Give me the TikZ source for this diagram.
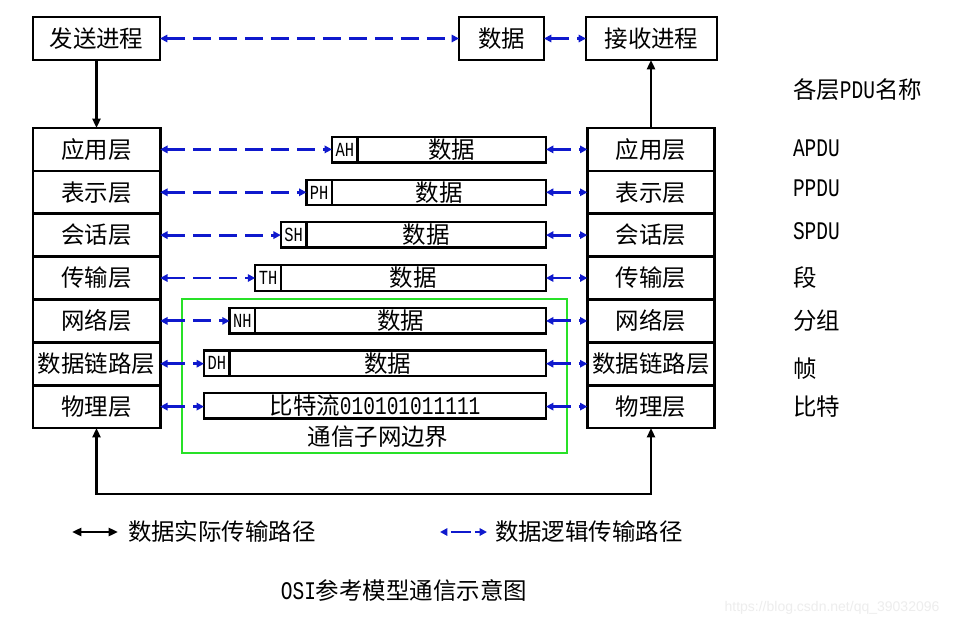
\documentclass[tikz,border=0pt]{standalone}
\usepackage{fontspec}
\setmainfont{Noto Sans CJK SC}
\newfontfamily\latfam{Liberation Mono}[FakeStretch=0.77]
\newfontfamily\wmfam{Liberation Sans}
\usetikzlibrary{arrows.meta,calc}
\definecolor{lblue}{RGB}{15,25,205}
\definecolor{gline}{RGB}{40,225,40}
\newcommand\cjkf{\fontsize{17.6pt}{21pt}\selectfont}
\newcommand\latf{\latfam\fontsize{19pt}{21pt}\selectfont}
\newcommand\hdrf{\latfam\fontsize{15pt}{17pt}\selectfont}
\tikzset{
  btip/.tip={Triangle[length=7pt,width=6pt]},
  ltip/.tip={Triangle[length=5.5pt,width=5.5pt]},
}
\begin{document}
\begin{tikzpicture}[x=0.75pt,y=-0.75pt,
  every node/.style={font=\cjkf, inner sep=0pt, outer sep=0pt},
  procbox/.style={draw, line width=2pt, minimum height=32.25pt},
  layerbox/.style={draw, line width=2pt, minimum width=95.5pt, minimum height=32.15pt},
  hdrbox/.style={draw, line width=1.7pt, minimum width=19.2pt, minimum height=19pt, font=\hdrf, anchor=west},
  databox/.style={draw, line width=1.7pt, minimum height=19pt, anchor=west},
  logic/.style={draw=lblue, line width=2.2pt, dash pattern=on 13.5pt off 6pt, ltip-ltip},
  real/.style={draw=black, line width=2pt, -btip},
  realboth/.style={draw=black, line width=2pt, btip-btip},
  pdu/.style={anchor=west},
]
\path[use as bounding box, fill=white] (0,0) rectangle (964,629);

% top row
\node[procbox, minimum width=95.25pt] (send) at (96.5,38.5) {发送进程};
\node[procbox, minimum width=63.75pt] (topdata) at (501.5,38.5) {数据};
\node[procbox, minimum width=98.25pt] (recv) at (651.5,38.5) {接收进程};

% left stack
\node[layerbox] (L1) at (96.5,149.4) {应用层};
\node[layerbox] (L2) at (96.5,192.3) {表示层};
\node[layerbox] (L3) at (96.5,235.1) {会话层};
\node[layerbox] (L4) at (96.5,278.0) {传输层};
\node[layerbox] (L5) at (96.5,320.9) {网络层};
\node[layerbox] (L6) at (96.5,363.7) {数据链路层};
\node[layerbox] (L7) at (96.5,406.6) {物理层};

% right stack
\node[layerbox] (R1) at (651,149.4) {应用层};
\node[layerbox] (R2) at (651,192.3) {表示层};
\node[layerbox] (R3) at (651,235.1) {会话层};
\node[layerbox] (R4) at (651,278.0) {传输层};
\node[layerbox] (R5) at (651,320.9) {网络层};
\node[layerbox] (R6) at (651,363.7) {数据链路层};
\node[layerbox] (R7) at (651,406.6) {物理层};

% communication subnet boundary
\node[draw=gline, line width=1.6pt, minimum width=288.75pt, minimum height=115.5pt] (subnet) at (374.5,376) {};
\node (subnetlabel) at (378,437) {通信子网边界};

% headers + data
\node[hdrbox] (h1) at (332,149.7) {AH};
\node[databox, minimum width=141.3pt] (d1) at (h1.east) {数据};
\node[hdrbox] (h2) at (306.4,192.5) {PH};
\node[databox, minimum width=160.5pt] (d2) at (h2.east) {数据};
\node[hdrbox] (h3) at (280.8,234.8) {SH};
\node[databox, minimum width=179.7pt] (d3) at (h3.east) {数据};
\node[hdrbox] (h4) at (255.2,278.0) {TH};
\node[databox, minimum width=198.9pt] (d4) at (h4.east) {数据};
\node[hdrbox] (h5) at (229.6,320.7) {NH};
\node[databox, minimum width=218.1pt] (d5) at (h5.east) {数据};
\node[hdrbox] (h6) at (204,363.2) {DH};
\node[databox, minimum width=237.3pt] (d6) at (h6.east) {数据};
\node[databox, minimum width=256.5pt] (b7) at (204,405.8) {比特流{\latf 010101011111}};

% logical (dashed) connectors
\draw[logic] (send) -- (topdata);
\draw[logic] (topdata) -- (recv);
\draw[logic] (L1.east) -- (L1.east -| h1.west);
\draw[logic] (L2.east) -- (L2.east -| h2.west);
\draw[logic] (L3.east) -- (L3.east -| h3.west);
\draw[logic] (L4.east) -- (L4.east -| h4.west);
\draw[logic] (L5.east) -- (L5.east -| h5.west);
\draw[logic] (L6.east) -- (L6.east -| h6.west);
\draw[logic] (L7.east) -- (L7.east -| b7.west);
\draw[logic] (R1.west -| d1.east) -- (R1.west);
\draw[logic] (R2.west -| d2.east) -- (R2.west);
\draw[logic] (R3.west -| d3.east) -- (R3.west);
\draw[logic] (R4.west -| d4.east) -- (R4.west);
\draw[logic] (R5.west -| d5.east) -- (R5.west);
\draw[logic] (R6.west -| d6.east) -- (R6.west);
\draw[logic] (R7.west -| b7.east) -- (R7.west);

% real (solid) connectors
\draw[real] (send) -- (L1);
\draw[real] (R1.north) -- (R1.north |- recv.south);
\coordinate (bus) at (0,494);
\draw[realboth] (L7.south) -- (L7.south |- bus) -| (R7.south);

% PDU names
\node[pdu] (pdut) at (793,90) {各层{\latf PDU}名称};
\node[pdu] (pdu1) at (793,148) {\latf APDU};
\node[pdu] (pdu2) at (793,188) {\latf PPDU};
\node[pdu] (pdu3) at (793,231) {\latf SPDU};
\node[pdu] (pdu4) at (793,278) {段};
\node[pdu] (pdu5) at (793,321) {分组};
\node[pdu] (pdu6) at (793,369) {帧};
\node[pdu] (pdu7) at (793,407) {比特};

% legend
\coordinate (la) at (72,532);
\coordinate (lb) at (118,532);
\draw[realboth] (la) -- (lb);
\node[anchor=west] (lt1) at (128,532) {数据实际传输路径};
\coordinate (lc) at (440,532);
\coordinate (ld) at (487,532);
\draw[logic, dash pattern=on 15pt off 3pt, dash phase=-3pt] (lc) -- (ld);
\node[anchor=west] (lt2) at (495,532) {数据逻辑传输路径};

% caption
\node (cap) at (404,591) {{\latf OSI}参考模型通信示意图};
\node[font=\wmfam\fontsize{10.5pt}{12pt}\selectfont, text=black!7] (wm) at (832,608) {https://blog.csdn.net/qq\_39032096};
\end{tikzpicture}
\end{document}
